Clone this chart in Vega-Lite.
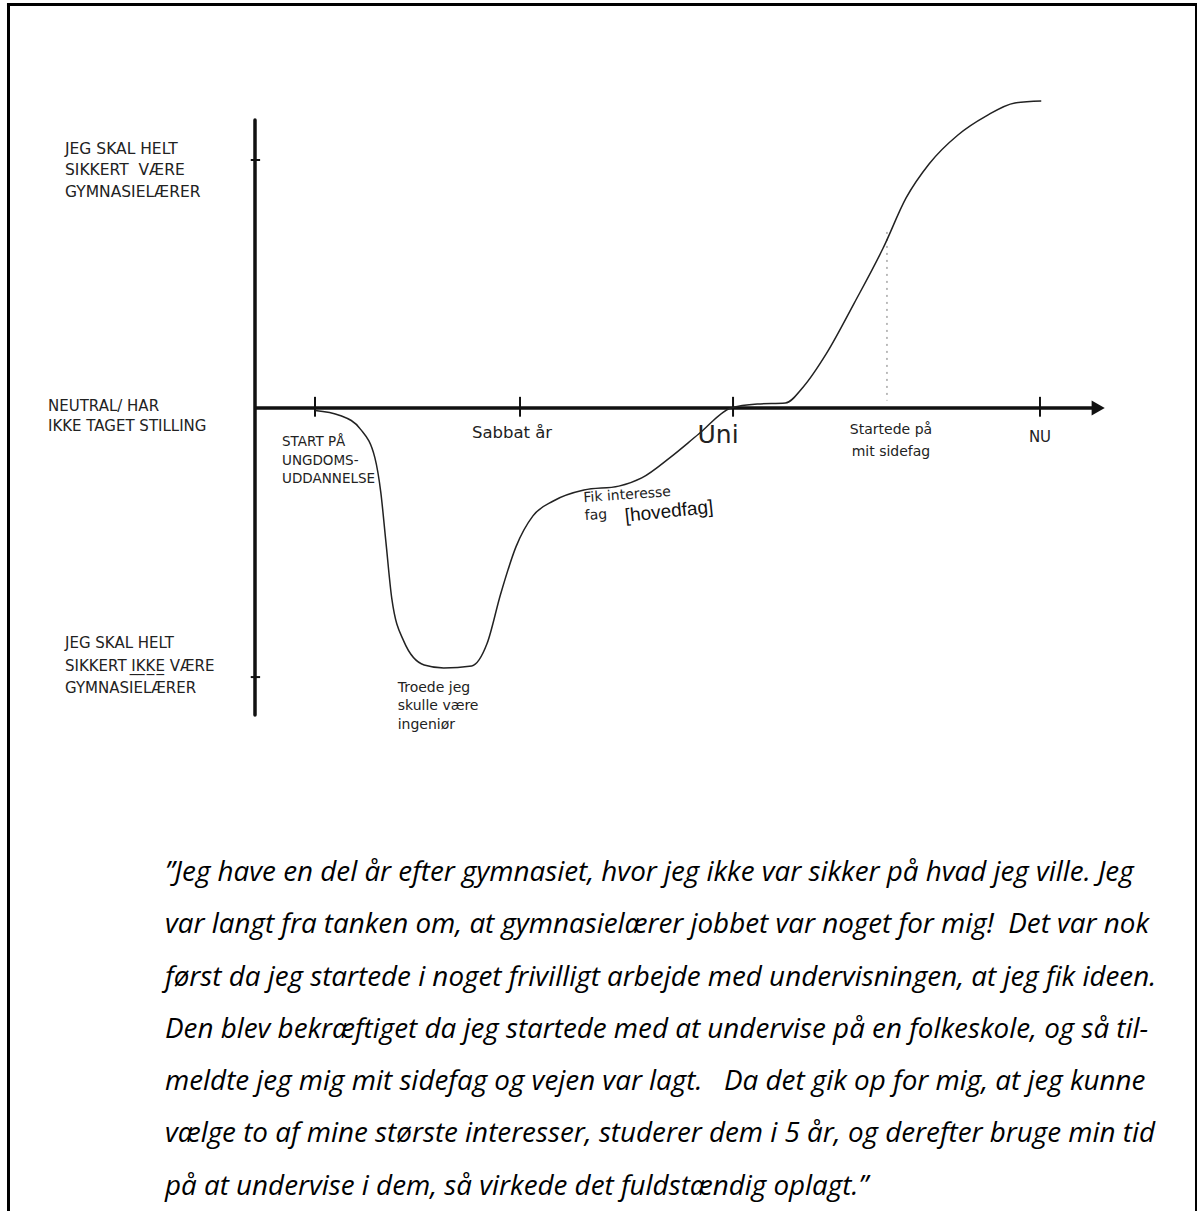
{
  "$schema": "https://vega.github.io/schema/vega-lite/v6.json",
  "width": 1197,
  "height": 1211,
  "autosize": {"type": "none"},
  "padding": 0,
  "background": "white",
  "config": {"view": {"stroke": null}},
  "datasets": {
    "attitude": [
      {"t": 7.06, "v": -0.01}, {"t": 10.0, "v": -0.03}, {"t": 12.4, "v": -0.085}, {"t": 14.1, "v": -0.2},
      {"t": 14.8, "v": -0.34}, {"t": 15.4, "v": -0.54}, {"t": 16.1, "v": -0.77}, {"t": 17.5, "v": -0.94},
      {"t": 19.9, "v": -1.036}, {"t": 22.2, "v": -1.048}, {"t": 25.5, "v": -1.04}, {"t": 27.3, "v": -0.95},
      {"t": 28.9, "v": -0.75}, {"t": 30.7, "v": -0.56}, {"t": 32.7, "v": -0.435}, {"t": 35.1, "v": -0.375},
      {"t": 38.7, "v": -0.331}, {"t": 42.8, "v": -0.315}, {"t": 45.5, "v": -0.282}, {"t": 48.9, "v": -0.198},
      {"t": 52.2, "v": -0.105}, {"t": 56.0, "v": 0.0}, {"t": 59.1, "v": 0.016}, {"t": 62.4, "v": 0.02},
      {"t": 64.5, "v": 0.085}, {"t": 67.2, "v": 0.218}, {"t": 70.5, "v": 0.423}, {"t": 73.9, "v": 0.645},
      {"t": 76.6, "v": 0.847}, {"t": 79.3, "v": 0.984}, {"t": 82.7, "v": 1.101}, {"t": 86.0, "v": 1.177},
      {"t": 89.4, "v": 1.23}, {"t": 92.5, "v": 1.238}
    ],
    "ticks": [{"t": 7.06}, {"t": 31.18}, {"t": 56.24}, {"t": 92.35}],
    "levels": [{"level": 1}, {"level": -1.085}],
    "frameSides": [{"side": -29.0}, {"side": 110.765}],
    "one": [{"quote": ["”Jeg have en del år efter gymnasiet, hvor jeg ikke var sikker på hvad jeg ville. Jeg", "var langt fra tanken om, at gymnasielærer jobbet var noget for mig!\u00a0 Det var nok", "først da jeg startede i noget frivilligt arbejde med undervisningen, at jeg fik ideen.", "Den blev bekræftiget da jeg startede med at undervise på en folkeskole, og så til-", "meldte jeg mig mit sidefag og vejen var lagt.\u00a0\u00a0 Da det gik op for mig, at jeg kunne", "vælge to af mine største interesser, studerer dem i 5 år, og derefter bruge min tid", "på at undervise i dem, så virkede det fuldstændig oplagt.”"]}]
  },
  "layer": [
    {
      "data": {"name": "frameSides"},
      "mark": {"type": "rule", "strokeWidth": 3, "color": "#000"},
      "encoding": {
        "x": {"field": "side", "type": "quantitative", "scale": {"domain": [-30, 110.824], "nice": false, "zero": false}, "axis": null},
        "y": {"datum": 1.633, "type": "quantitative", "scale": {"domain": [-3.2379, 1.64516], "nice": false, "zero": false}, "axis": null},
        "y2": {"datum": -3.2379}
      }
    },
    {
      "data": {"name": "one"},
      "mark": {"type": "rule", "strokeWidth": 3, "color": "#000"},
      "encoding": {
        "x": {"datum": -29.18, "type": "quantitative", "scale": {"domain": [-30, 110.824], "nice": false, "zero": false}, "axis": null},
        "x2": {"datum": 110.824},
        "y": {"datum": 1.627, "type": "quantitative", "scale": {"domain": [-3.2379, 1.64516], "nice": false, "zero": false}, "axis": null}
      }
    },
    {
      "data": {"name": "one"},
      "mark": {"type": "rule", "strokeWidth": 3.5, "color": "#111", "strokeCap": "round"},
      "encoding": {
        "x": {"datum": 0, "type": "quantitative", "scale": {"domain": [-30, 110.824], "nice": false, "zero": false}, "axis": null},
        "y": {"datum": 1.161, "type": "quantitative", "scale": {"domain": [-3.2379, 1.64516], "nice": false, "zero": false}, "axis": null},
        "y2": {"datum": -1.238}
      }
    },
    {
      "data": {"name": "levels"},
      "mark": {"type": "rule", "strokeWidth": 2, "color": "#111"},
      "encoding": {
        "x": {"datum": -0.5, "type": "quantitative", "scale": {"domain": [-30, 110.824], "nice": false, "zero": false}, "axis": null},
        "x2": {"datum": 0.6},
        "y": {"field": "level", "type": "quantitative", "scale": {"domain": [-3.2379, 1.64516], "nice": false, "zero": false}, "axis": null}
      }
    },
    {
      "data": {"name": "one"},
      "mark": {"type": "rule", "strokeWidth": 3.5, "color": "#111"},
      "encoding": {
        "x": {"datum": 0, "type": "quantitative", "scale": {"domain": [-30, 110.824], "nice": false, "zero": false}, "axis": null},
        "x2": {"datum": 99},
        "y": {"datum": 0, "type": "quantitative", "scale": {"domain": [-3.2379, 1.64516], "nice": false, "zero": false}, "axis": null}
      }
    },
    {
      "data": {"name": "one"},
      "mark": {"type": "point", "shape": "triangle-right", "filled": true, "color": "#111", "size": 230, "opacity": 1},
      "encoding": {
        "x": {"datum": 99.2, "type": "quantitative", "scale": {"domain": [-30, 110.824], "nice": false, "zero": false}, "axis": null},
        "y": {"datum": 0, "type": "quantitative", "scale": {"domain": [-3.2379, 1.64516], "nice": false, "zero": false}, "axis": null}
      }
    },
    {
      "data": {"name": "ticks"},
      "mark": {"type": "rule", "strokeWidth": 2, "color": "#111"},
      "encoding": {
        "x": {"field": "t", "type": "quantitative", "scale": {"domain": [-30, 110.824], "nice": false, "zero": false}, "axis": null},
        "y": {"datum": 0.045, "type": "quantitative", "scale": {"domain": [-3.2379, 1.64516], "nice": false, "zero": false}, "axis": null},
        "y2": {"datum": -0.035}
      }
    },
    {
      "data": {"name": "one"},
      "mark": {"type": "rule", "strokeWidth": 1, "color": "#777", "strokeDash": [2, 5]},
      "encoding": {
        "x": {"datum": 74.35, "type": "quantitative", "scale": {"domain": [-30, 110.824], "nice": false, "zero": false}, "axis": null},
        "y": {"datum": 0.71, "type": "quantitative", "scale": {"domain": [-3.2379, 1.64516], "nice": false, "zero": false}, "axis": null},
        "y2": {"datum": 0.03}
      }
    },
    {
      "data": {"name": "attitude"},
      "mark": {"type": "line", "interpolate": "monotone", "strokeWidth": 1.5, "color": "#222"},
      "encoding": {
        "x": {"field": "t", "type": "quantitative", "scale": {"domain": [-30, 110.824], "nice": false, "zero": false}, "axis": null},
        "y": {"field": "v", "type": "quantitative", "scale": {"domain": [-3.2379, 1.64516], "nice": false, "zero": false}, "axis": null}
      }
    },
    {
      "data": {"values": [{"level": 1, "label": ["JEG SKAL HELT", "SIKKERT\u00a0\u00a0VÆRE", "GYMNASIELÆRER"]}]},
      "mark": {"type": "text", "align": "left", "baseline": "middle", "dx": -190, "dy": -11, "lineHeight": 21.5, "font": "DejaVu Sans", "fontSize": 15.5, "color": "#222"},
      "encoding": {
        "x": {"datum": 0, "type": "quantitative", "scale": {"domain": [-30, 110.824], "nice": false, "zero": false}, "axis": null},
        "y": {"field": "level", "type": "quantitative", "scale": {"domain": [-3.2379, 1.64516], "nice": false, "zero": false}, "axis": null},
        "text": {"field": "label"}
      }
    },
    {
      "data": {"values": [{"level": 0, "label": ["NEUTRAL/ HAR", "IKKE TAGET STILLING"]}]},
      "mark": {"type": "text", "align": "left", "baseline": "middle", "dx": -207, "dy": -2, "lineHeight": 20, "font": "DejaVu Sans", "fontSize": 15, "color": "#222"},
      "encoding": {
        "x": {"datum": 0, "type": "quantitative", "scale": {"domain": [-30, 110.824], "nice": false, "zero": false}, "axis": null},
        "y": {"field": "level", "type": "quantitative", "scale": {"domain": [-3.2379, 1.64516], "nice": false, "zero": false}, "axis": null},
        "text": {"field": "label"}
      }
    },
    {
      "data": {"values": [{"level": -1.085, "label": ["JEG SKAL HELT", "SIKKERT I̲K̲K̲E̲ VÆRE", "GYMNASIELÆRER"]}]},
      "mark": {"type": "text", "align": "left", "baseline": "middle", "dx": -190, "dy": -34, "lineHeight": 22.5, "font": "DejaVu Sans", "fontSize": 15, "color": "#222"},
      "encoding": {
        "x": {"datum": 0, "type": "quantitative", "scale": {"domain": [-30, 110.824], "nice": false, "zero": false}, "axis": null},
        "y": {"field": "level", "type": "quantitative", "scale": {"domain": [-3.2379, 1.64516], "nice": false, "zero": false}, "axis": null},
        "text": {"field": "label"}
      }
    },
    {
      "data": {"values": [{"t": 7.06, "label": ["START PÅ", "UNGDOMS-", "UDDANNELSE"]}]},
      "mark": {"type": "text", "align": "left", "baseline": "middle", "dx": -33, "dy": 34, "lineHeight": 18.5, "font": "DejaVu Sans", "fontSize": 13.5, "color": "#222"},
      "encoding": {
        "x": {"field": "t", "type": "quantitative", "scale": {"domain": [-30, 110.824], "nice": false, "zero": false}, "axis": null},
        "y": {"datum": 0, "type": "quantitative", "scale": {"domain": [-3.2379, 1.64516], "nice": false, "zero": false}, "axis": null},
        "text": {"field": "label"}
      }
    },
    {
      "data": {"values": [{"t": 31.18, "label": "Sabbat år"}]},
      "mark": {"type": "text", "align": "center", "baseline": "middle", "dx": -8, "dy": 25, "font": "DejaVu Sans", "fontSize": 16.5, "color": "#222"},
      "encoding": {
        "x": {"field": "t", "type": "quantitative", "scale": {"domain": [-30, 110.824], "nice": false, "zero": false}, "axis": null},
        "y": {"datum": 0, "type": "quantitative", "scale": {"domain": [-3.2379, 1.64516], "nice": false, "zero": false}, "axis": null},
        "text": {"field": "label"}
      }
    },
    {
      "data": {"values": [{"t": 56.24, "label": "Uni"}]},
      "mark": {"type": "text", "align": "center", "baseline": "middle", "dx": -15, "dy": 27, "font": "DejaVu Sans", "fontSize": 25, "color": "#222"},
      "encoding": {
        "x": {"field": "t", "type": "quantitative", "scale": {"domain": [-30, 110.824], "nice": false, "zero": false}, "axis": null},
        "y": {"datum": 0, "type": "quantitative", "scale": {"domain": [-3.2379, 1.64516], "nice": false, "zero": false}, "axis": null},
        "text": {"field": "label"}
      }
    },
    {
      "data": {"values": [{"t": 74.35, "label": ["Startede på", "mit sidefag"]}]},
      "mark": {"type": "text", "align": "center", "baseline": "middle", "dx": 4, "dy": 22, "lineHeight": 22, "font": "DejaVu Sans", "fontSize": 14, "color": "#222"},
      "encoding": {
        "x": {"field": "t", "type": "quantitative", "scale": {"domain": [-30, 110.824], "nice": false, "zero": false}, "axis": null},
        "y": {"datum": 0, "type": "quantitative", "scale": {"domain": [-3.2379, 1.64516], "nice": false, "zero": false}, "axis": null},
        "text": {"field": "label"}
      }
    },
    {
      "data": {"values": [{"t": 92.35, "label": "NU"}]},
      "mark": {"type": "text", "align": "center", "baseline": "middle", "dx": 0, "dy": 29, "font": "DejaVu Sans", "fontSize": 15, "color": "#222"},
      "encoding": {
        "x": {"field": "t", "type": "quantitative", "scale": {"domain": [-30, 110.824], "nice": false, "zero": false}, "axis": null},
        "y": {"datum": 0, "type": "quantitative", "scale": {"domain": [-3.2379, 1.64516], "nice": false, "zero": false}, "axis": null},
        "text": {"field": "label"}
      }
    },
    {
      "data": {"values": [{"t": 22.2, "v": -1.048, "label": ["Troede jeg", "skulle være", "ingeniør"]}]},
      "mark": {"type": "text", "align": "left", "baseline": "middle", "dx": -46, "dy": 20, "lineHeight": 18.5, "font": "DejaVu Sans", "fontSize": 14, "color": "#222"},
      "encoding": {
        "x": {"field": "t", "type": "quantitative", "scale": {"domain": [-30, 110.824], "nice": false, "zero": false}, "axis": null},
        "y": {"field": "v", "type": "quantitative", "scale": {"domain": [-3.2379, 1.64516], "nice": false, "zero": false}, "axis": null},
        "text": {"field": "label"}
      }
    },
    {
      "data": {"values": [{"t": 38.7, "v": -0.331, "label": ["Fik interesse", "fag"]}]},
      "mark": {"type": "text", "align": "left", "baseline": "middle", "dx": -1, "dy": 8, "angle": -4, "lineHeight": 18, "font": "DejaVu Sans", "fontSize": 14, "color": "#222"},
      "encoding": {
        "x": {"field": "t", "type": "quantitative", "scale": {"domain": [-30, 110.824], "nice": false, "zero": false}, "axis": null},
        "y": {"field": "v", "type": "quantitative", "scale": {"domain": [-3.2379, 1.64516], "nice": false, "zero": false}, "axis": null},
        "text": {"field": "label"}
      }
    },
    {
      "data": {"values": [{"t": 38.7, "v": -0.331, "label": "[hovedfag]"}]},
      "mark": {"type": "text", "align": "left", "baseline": "middle", "dx": 38, "dy": 30, "angle": -6, "font": "Liberation Sans", "fontSize": 19, "color": "#111"},
      "encoding": {
        "x": {"field": "t", "type": "quantitative", "scale": {"domain": [-30, 110.824], "nice": false, "zero": false}, "axis": null},
        "y": {"field": "v", "type": "quantitative", "scale": {"domain": [-3.2379, 1.64516], "nice": false, "zero": false}, "axis": null},
        "text": {"field": "label"}
      }
    },
    {
      "data": {"name": "one"},
      "mark": {"type": "text", "align": "left", "baseline": "alphabetic", "lineHeight": 52.3, "font": "Open Sans", "fontStyle": "italic", "fontSize": 27.8, "color": "#000"},
      "encoding": {
        "x": {"datum": -10.59, "type": "quantitative", "scale": {"domain": [-30, 110.824], "nice": false, "zero": false}, "axis": null},
        "y": {"datum": -1.907, "type": "quantitative", "scale": {"domain": [-3.2379, 1.64516], "nice": false, "zero": false}, "axis": null},
        "text": {"field": "quote"}
      }
    }
  ]
}
